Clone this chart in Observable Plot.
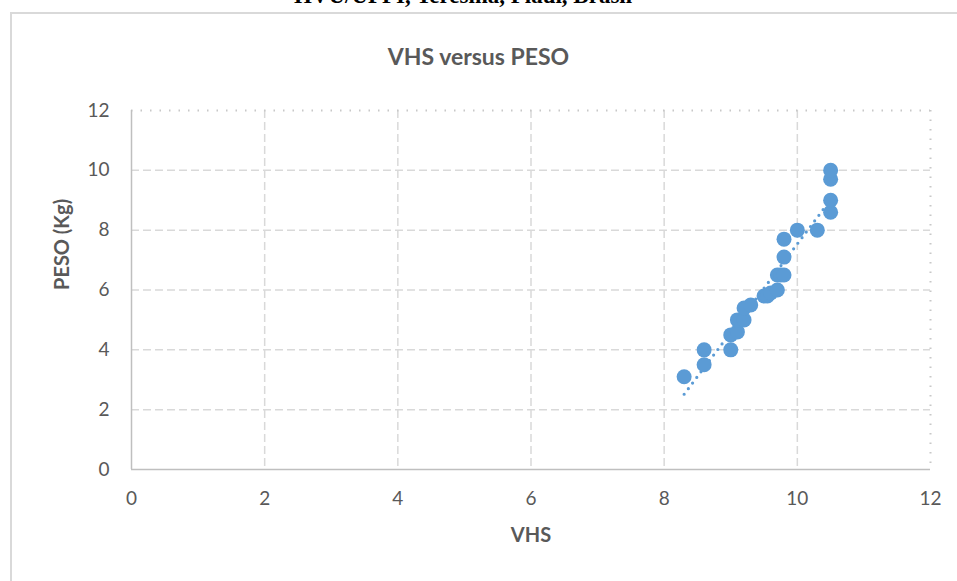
<!DOCTYPE html>
<html>
<head>
<meta charset="utf-8">
<script src="https://cdn.jsdelivr.net/npm/d3@7"></script>
<script src="https://cdn.jsdelivr.net/npm/@observablehq/plot@0.6"></script>
<style>
  html, body { margin: 0; padding: 0; background: #fff; }
  #wrap { position: relative; width: 957px; height: 581px; overflow: hidden; background: #fff; }
  #caption { position: absolute; left: 0; width: 926px; top: -17px; text-align: center;
    font-family: "Liberation Serif", serif; font-weight: bold; font-size: 23px; color: #000; white-space: nowrap; }
  #frame { position: absolute; left: 10px; top: 12px; width: 1000px; height: 1000px; border: 2px solid #d9d9d9; box-sizing: border-box; }
  #title { position: absolute; left: 0; width: 957px; top: 42px; text-align: center;
    font-family: Lato, sans-serif; font-weight: bold; font-size: 23px; color: #595959; }
  #chart { position: absolute; left: 0; top: 0; }
</style>
</head>
<body>
<div id="wrap">
  <div id="frame"></div>
  <div id="caption">HVU/UFPI, Teresina, Piauí, Brasil</div>
  <div id="title">VHS versus PESO</div>
  <div id="chart"></div>
</div>
<script>
const vhs  = [8.3, 8.6, 8.6, 9.0, 9.0, 9.1, 9.1, 9.2, 9.2, 9.3, 9.5, 9.55, 9.6, 9.7, 9.7, 9.75, 9.8, 9.8, 9.8, 10.0, 10.3, 10.5, 10.5, 10.5, 10.5];
const peso = [3.1, 4.0, 3.5, 4.0, 4.5, 4.6, 5.0, 5.0, 5.4, 5.5, 5.8, 5.8, 5.9, 6.0, 6.5, 6.5, 6.5, 7.1, 7.7, 8.0, 8.0, 8.6, 9.0, 9.7, 10.0];
const xTicks = [0, 2, 4, 6, 8, 10, 12];
const yTicks = [0, 2, 4, 6, 8, 10, 12];
const xLabel = "VHS";
const yLabel = "PESO (Kg)";

const data = vhs.map((v, i) => ({VHS: v, PESO: peso[i]}));
const innerX = xTicks.filter(t => t > 0 && t < 12);
const innerY = yTicks.filter(t => t > 0 && t < 12);

const plot = Plot.plot({
  width: 957,
  height: 581,
  marginLeft: 131,
  marginRight: 27,
  marginTop: 110,
  marginBottom: 112,
  style: {fontFamily: "Lato, sans-serif", fontSize: "19px", color: "#595959", background: "transparent"},
  x: {domain: [0, 12], ticks: xTicks, tickSize: 0, tickPadding: 22, label: null},
  y: {domain: [0, 12], ticks: yTicks, tickSize: 0, tickPadding: 22, label: null},
  marks: [
    Plot.ruleX(innerX, {stroke: "#d9d9d9", strokeWidth: 1.5, strokeDasharray: "8,4"}),
    Plot.ruleY(innerY, {stroke: "#d9d9d9", strokeWidth: 1.5, strokeDasharray: "8,4"}),
    Plot.ruleY([12], {stroke: "#c8c8c8", strokeWidth: 2, strokeDasharray: "1.5,8"}),
    Plot.ruleX([12], {stroke: "#c8c8c8", strokeWidth: 2, strokeDasharray: "1.5,8"}),
    Plot.ruleY([0], {stroke: "#bfbfbf", strokeWidth: 1.5}),
    Plot.ruleX([0], {stroke: "#bfbfbf", strokeWidth: 1.5}),
    Plot.axisX({ticks: xTicks, tickSize: 0, tickPadding: 22, label: null, fill: "#595959"}),
    Plot.axisY({ticks: yTicks, tickSize: 0, tickPadding: 22, label: null, fill: "#595959"}),
    Plot.linearRegressionY(data, {x: "VHS", y: "PESO", ci: 0, stroke: "#5b9bd5", strokeWidth: 3.2, strokeDasharray: "0,7", strokeLinecap: "round"}),
    Plot.dot(data, {x: "VHS", y: "PESO", r: 7.5, fill: "#5b9bd5", stroke: "none"}),
    Plot.text([xLabel], {frameAnchor: "bottom", dy: 72, fontWeight: "bold", fontSize: 20, fill: "#595959"}),
    Plot.text([yLabel], {frameAnchor: "left", dx: -69, rotate: -90, fontWeight: "bold", fontSize: 20, fill: "#595959"})
  ]
});
document.getElementById("chart").appendChild(plot);
</script>
</body>
</html>
